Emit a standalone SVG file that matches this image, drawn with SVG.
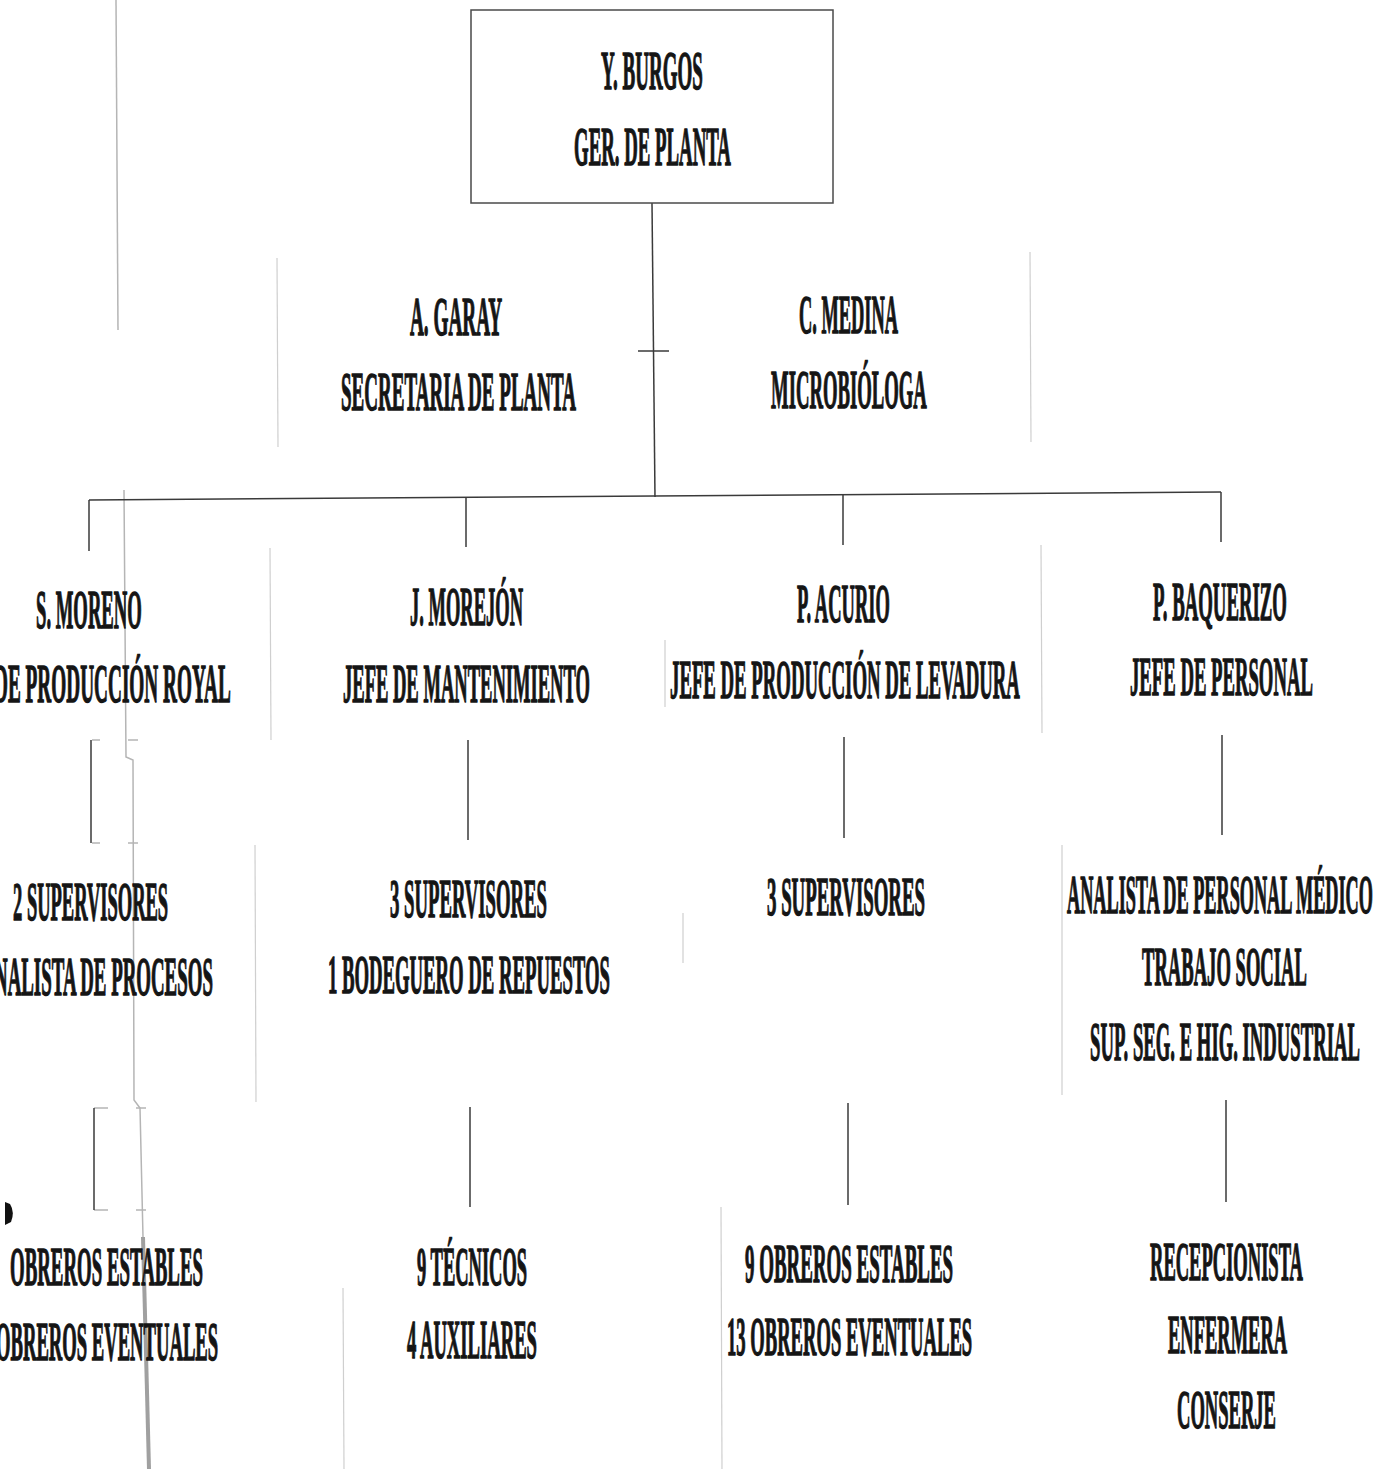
<svg xmlns="http://www.w3.org/2000/svg" width="1385" height="1469" viewBox="0 0 1385 1469">
<style>
.t{font-family:"Liberation Serif","Times New Roman",serif;font-weight:bold;font-size:55px;fill:#151515;stroke:#151515;stroke-width:1.4}
.c{stroke:#3a3a3a;stroke-width:1.5;fill:none}
.b{stroke:#4a4a4a;stroke-width:1.5;fill:none}
.f{stroke:#cfcfcf;stroke-width:1.2;fill:none}
.g{stroke:#b5b5b5;stroke-width:1.5;fill:none}
</style>
<rect width="1385" height="1469" fill="#ffffff"/>

<g id="scan-marks">
  <line class="f" x1="277" y1="258" x2="278" y2="447"/>
  <line class="f" x1="1030" y1="252" x2="1031" y2="442"/>
  <line class="f" x1="270" y1="548" x2="271" y2="740"/>
  <line class="f" x1="665" y1="640" x2="665" y2="707"/>
  <line class="f" x1="1041" y1="545" x2="1042" y2="733"/>
  <line class="f" x1="255" y1="845" x2="256" y2="1102"/>
  <line class="f" x1="683" y1="913" x2="683" y2="963"/>
  <line class="f" x1="1062" y1="845" x2="1062" y2="1095"/>
  <line class="f" x1="343" y1="1288" x2="344" y2="1469"/>
  <line class="f" x1="721" y1="1207" x2="722" y2="1469"/>
  <polyline class="g" points="116,0 118,330"/>
  <polyline class="g" points="124,490 126,757 133,760 134,1100 140,1108 143,1237"/>
  <line x1="143" y1="1237" x2="149" y2="1469" stroke="#a0a0a0" stroke-width="4"/>
  <line class="g" x1="92" y1="740" x2="100" y2="740"/>
  <line class="g" x1="92" y1="843" x2="100" y2="843"/>
  <line class="g" x1="94" y1="1108" x2="108" y2="1108"/>
  <line class="g" x1="94" y1="1210" x2="108" y2="1210"/>
  <line class="g" x1="128" y1="740" x2="138" y2="740"/>
  <line class="g" x1="128" y1="843" x2="138" y2="843"/>
  <line class="g" x1="136" y1="1108" x2="146" y2="1108"/>
  <line class="g" x1="136" y1="1210" x2="146" y2="1210"/>
  <path d="M5,1202 L10,1204 Q15,1212 11,1222 L5,1225 Z" fill="#111"/>
</g>

<g id="connectors">
  <line class="c" x1="652" y1="203" x2="655" y2="497"/>
  <line class="c" x1="638" y1="351" x2="669" y2="351"/>
  <line class="c" x1="89" y1="500" x2="1221" y2="492"/>
  <line class="c" x1="89" y1="500" x2="89" y2="551"/>
  <line class="c" x1="466" y1="497" x2="466" y2="547"/>
  <line class="c" x1="843" y1="495" x2="843" y2="545"/>
  <line class="c" x1="1221" y1="492" x2="1221" y2="542"/>
  <line class="c" x1="91" y1="740" x2="91" y2="843"/>
  <line class="c" x1="468" y1="740" x2="468" y2="840"/>
  <line class="c" x1="844" y1="737" x2="844" y2="838"/>
  <line class="c" x1="1222" y1="735" x2="1222" y2="835"/>
  <line class="c" x1="94" y1="1108" x2="94" y2="1210"/>
  <line class="c" x1="470" y1="1107" x2="470" y2="1207"/>
  <line class="c" x1="848" y1="1103" x2="848" y2="1205"/>
  <line class="c" x1="1226" y1="1100" x2="1226" y2="1202"/>
</g>

<g id="n-burgos">
  <rect class="b" x="471" y="10" width="362" height="193"/>
  <text class="t" transform="translate(601 89) scale(0.36 1)" textLength="283" lengthAdjust="spacingAndGlyphs">Y. BURGOS</text>
  <text class="t" transform="translate(574 165) scale(0.36 1)" textLength="436" lengthAdjust="spacingAndGlyphs">GER. DE PLANTA</text>
</g>
<g id="n-garay">
  <text class="t" transform="translate(410 335) scale(0.36 1)" textLength="256" lengthAdjust="spacingAndGlyphs">A. GARAY</text>
  <text class="t" transform="translate(341 410) scale(0.36 1)" textLength="653" lengthAdjust="spacingAndGlyphs">SECRETARIA DE PLANTA</text>
</g>
<g id="n-medina">
  <text class="t" transform="translate(799 333) scale(0.36 1)" textLength="275" lengthAdjust="spacingAndGlyphs">C. MEDINA</text>
  <text class="t" transform="translate(771 408) scale(0.36 1)" textLength="433" lengthAdjust="spacingAndGlyphs">MICROBIÓLOGA</text>
</g>

<g id="n-moreno">
  <text class="t" transform="translate(36 628) scale(0.36 1)" textLength="294" lengthAdjust="spacingAndGlyphs">S. MORENO</text>
  <text class="t" transform="translate(-6 702) scale(0.36 1)" textLength="658" lengthAdjust="spacingAndGlyphs">DE PRODUCCIÓN ROYAL</text>
</g>
<g id="n-morejon">
  <text class="t" transform="translate(410 625) scale(0.36 1)" textLength="314" lengthAdjust="spacingAndGlyphs">J. MOREJÓN</text>
  <text class="t" transform="translate(343 702) scale(0.36 1)" textLength="686" lengthAdjust="spacingAndGlyphs">JEFE DE MANTENIMIENTO</text>
</g>
<g id="n-acurio">
  <text class="t" transform="translate(797 622) scale(0.36 1)" textLength="258" lengthAdjust="spacingAndGlyphs">P. ACURIO</text>
  <text class="t" transform="translate(670 698) scale(0.36 1)" textLength="972" lengthAdjust="spacingAndGlyphs">JEFE DE PRODUCCIÓN DE LEVADURA</text>
</g>
<g id="n-baquerizo">
  <text class="t" transform="translate(1153 620) scale(0.36 1)" textLength="372" lengthAdjust="spacingAndGlyphs">P. BAQUERIZO</text>
  <text class="t" transform="translate(1130 695) scale(0.36 1)" textLength="508" lengthAdjust="spacingAndGlyphs">JEFE DE PERSONAL</text>
</g>

<g id="n-moreno-staff">
  <text class="t" transform="translate(13 920) scale(0.36 1)" textLength="431" lengthAdjust="spacingAndGlyphs">2 SUPERVISORES</text>
  <text class="t" transform="translate(-6 995) scale(0.36 1)" textLength="608" lengthAdjust="spacingAndGlyphs">NALISTA DE PROCESOS</text>
</g>
<g id="n-morejon-staff">
  <text class="t" transform="translate(390 917) scale(0.36 1)" textLength="436" lengthAdjust="spacingAndGlyphs">3 SUPERVISORES</text>
  <text class="t" transform="translate(328 993) scale(0.36 1)" textLength="783" lengthAdjust="spacingAndGlyphs">1 BODEGUERO DE REPUESTOS</text>
</g>
<g id="n-acurio-staff">
  <text class="t" transform="translate(767 915) scale(0.36 1)" textLength="439" lengthAdjust="spacingAndGlyphs">3 SUPERVISORES</text>
</g>
<g id="n-baquerizo-staff">
  <text class="t" transform="translate(1067 913) scale(0.33 1)" textLength="927" lengthAdjust="spacingAndGlyphs">ANALISTA DE PERSONAL MÉDICO</text>
  <text class="t" transform="translate(1142 985) scale(0.36 1)" textLength="458" lengthAdjust="spacingAndGlyphs">TRABAJO SOCIAL</text>
  <text class="t" transform="translate(1090 1060) scale(0.36 1)" textLength="750" lengthAdjust="spacingAndGlyphs">SUP. SEG. E HIG. INDUSTRIAL</text>
</g>

<g id="n-moreno-workers">
  <text class="t" transform="translate(10 1285) scale(0.36 1)" textLength="536" lengthAdjust="spacingAndGlyphs">OBREROS ESTABLES</text>
  <text class="t" transform="translate(-4 1360) scale(0.36 1)" textLength="617" lengthAdjust="spacingAndGlyphs">OBREROS EVENTUALES</text>
</g>
<g id="n-morejon-workers">
  <text class="t" transform="translate(417 1285) scale(0.36 1)" textLength="306" lengthAdjust="spacingAndGlyphs">9 TÉCNICOS</text>
  <text class="t" transform="translate(407 1358) scale(0.36 1)" textLength="361" lengthAdjust="spacingAndGlyphs">4 AUXILIARES</text>
</g>
<g id="n-acurio-workers">
  <text class="t" transform="translate(745 1282) scale(0.36 1)" textLength="578" lengthAdjust="spacingAndGlyphs">9 OBREROS ESTABLES</text>
  <text class="t" transform="translate(727 1355) scale(0.36 1)" textLength="681" lengthAdjust="spacingAndGlyphs">13 OBREROS EVENTUALES</text>
</g>
<g id="n-baquerizo-workers">
  <text class="t" transform="translate(1150 1280) scale(0.36 1)" textLength="425" lengthAdjust="spacingAndGlyphs">RECEPCIONISTA</text>
  <text class="t" transform="translate(1168 1353) scale(0.36 1)" textLength="331" lengthAdjust="spacingAndGlyphs">ENFERMERA</text>
  <text class="t" transform="translate(1177 1428) scale(0.36 1)" textLength="275" lengthAdjust="spacingAndGlyphs">CONSERJE</text>
</g>
</svg>
